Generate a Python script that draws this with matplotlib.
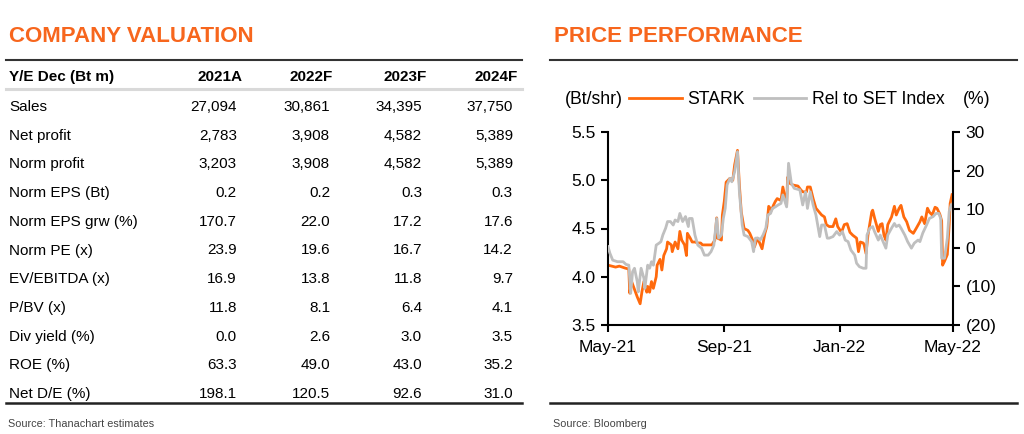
import matplotlib
matplotlib.use("Agg")
import matplotlib.pyplot as plt
import matplotlib.dates as mdates
from matplotlib.lines import Line2D
import pandas as pd

plt.rcParams['font.family'] = ['Liberation Sans', 'DejaVu Sans']

# ---------------- data ----------------
table_title = "COMPANY VALUATION"
chart_title = "PRICE PERFORMANCE"
col_header = "Y/E Dec (Bt m)"
years = ["2021A", "2022F", "2023F", "2024F"]
row_labels = ["Sales", "Net profit", "Norm profit", "Norm EPS (Bt)", "Norm EPS grw (%)",
              "Norm PE (x)", "EV/EBITDA (x)", "P/BV (x)", "Div yield (%)", "ROE (%)", "Net D/E (%)"]
col_2021A = ["27,094", "2,783", "3,203", "0.2", "170.7", "23.9", "16.9", "11.8", "0.0", "63.3", "198.1"]
col_2022F = ["30,861", "3,908", "3,908", "0.2", "22.0", "19.6", "13.8", "8.1", "2.6", "49.0", "120.5"]
col_2023F = ["34,395", "4,582", "4,582", "0.3", "17.2", "16.7", "11.8", "6.4", "3.0", "43.0", "92.6"]
col_2024F = ["37,750", "5,389", "5,389", "0.3", "17.6", "14.2", "9.7", "4.1", "3.5", "35.2", "31.0"]
table_source = "Source: Thanachart estimates"
chart_source = "Source: Bloomberg"

stark_dates = [
    "2021-05-01", "2021-05-05", "2021-05-09", "2021-05-13", "2021-05-19", "2021-05-23", "2021-05-24",
    "2021-05-26", "2021-05-29", "2021-06-01", "2021-06-04", "2021-06-06", "2021-06-08", "2021-06-11",
    "2021-06-12", "2021-06-14", "2021-06-16", "2021-06-18", "2021-06-21", "2021-06-22", "2021-06-25",
    "2021-06-27", "2021-06-29", "2021-07-02", "2021-07-03", "2021-07-07", "2021-07-08", "2021-07-11",
    "2021-07-14", "2021-07-16", "2021-07-18", "2021-07-21", "2021-07-23", "2021-07-24", "2021-07-27",
    "2021-07-29", "2021-08-01", "2021-08-04", "2021-08-07", "2021-08-09", "2021-08-13", "2021-08-19",
    "2021-08-22", "2021-08-24", "2021-08-25", "2021-08-29", "2021-08-30", "2021-09-01", "2021-09-03",
    "2021-09-07", "2021-09-10", "2021-09-12", "2021-09-15", "2021-09-17", "2021-09-19", "2021-09-22",
    "2021-09-26", "2021-09-28", "2021-10-01", "2021-10-03", "2021-10-06", "2021-10-08", "2021-10-11",
    "2021-10-14", "2021-10-16", "2021-10-18", "2021-10-21", "2021-10-23", "2021-10-25", "2021-10-27",
    "2021-10-31", "2021-11-02", "2021-11-06", "2021-11-07", "2021-11-09", "2021-11-13", "2021-11-18",
    "2021-11-21", "2021-11-23", "2021-11-27", "2021-11-28", "2021-12-01", "2021-12-04", "2021-12-07",
    "2021-12-13", "2021-12-16", "2021-12-18", "2021-12-21", "2021-12-25", "2021-12-28", "2021-12-30",
    "2022-01-03", "2022-01-06", "2022-01-09", "2022-01-12", "2022-01-15", "2022-01-19", "2022-01-21",
    "2022-01-23", "2022-01-26", "2022-01-27", "2022-01-29", "2022-01-31", "2022-02-04", "2022-02-05",
    "2022-02-07", "2022-02-11", "2022-02-13", "2022-02-15", "2022-02-17", "2022-02-19", "2022-02-21",
    "2022-02-25", "2022-02-28", "2022-03-02", "2022-03-05", "2022-03-07", "2022-03-10", "2022-03-13",
    "2022-03-16", "2022-03-20", "2022-03-23", "2022-03-27", "2022-03-29", "2022-04-01", "2022-04-04",
    "2022-04-06", "2022-04-09", "2022-04-12", "2022-04-14", "2022-04-17", "2022-04-19", "2022-04-20",
    "2022-04-22", "2022-04-25", "2022-04-27", "2022-04-28", "2022-04-30",
]
stark_price = [
    4.12, 4.11, 4.10, 4.11, 4.09, 4.08, 3.83,
    3.95, 3.87, 3.79, 3.72, 3.85, 3.95, 3.84,
    3.90, 3.84, 3.95, 3.88, 4.00, 4.12, 4.18,
    4.07, 4.22, 4.29, 4.36, 4.33, 4.26, 4.36,
    4.29, 4.47, 4.38, 4.33, 4.22, 4.45, 4.40,
    4.36, 4.36, 4.35, 4.35, 4.33, 4.33, 4.33,
    4.38, 4.61, 4.40, 4.38, 4.64, 4.78, 4.98,
    5.02, 5.00, 5.16, 5.31, 4.95, 4.67, 4.50,
    4.48, 4.45, 4.38, 4.31, 4.40, 4.36, 4.29,
    4.45, 4.52, 4.73, 4.69, 4.74, 4.78, 4.81,
    4.79, 4.93, 4.74, 5.03, 4.97, 4.95, 4.94,
    4.90, 4.88, 4.88, 4.93, 4.93, 4.81, 4.71,
    4.64, 4.62, 4.54, 4.52, 4.52, 4.60, 4.52,
    4.46, 4.54, 4.55, 4.46, 4.43, 4.40, 4.26,
    4.36, 4.35, 4.33, 4.24, 4.43, 4.67, 4.69,
    4.61, 4.47, 4.54, 4.55, 4.43, 4.38, 4.54,
    4.62, 4.73, 4.64, 4.71, 4.74, 4.62, 4.57,
    4.48, 4.45, 4.50, 4.57, 4.62, 4.55, 4.71,
    4.67, 4.64, 4.72, 4.71, 4.65, 4.58, 4.12,
    4.16, 4.23, 4.54, 4.76, 4.85,
]

rel_dates = [
    "2021-05-01", "2021-05-03", "2021-05-06", "2021-05-11", "2021-05-17", "2021-05-20", "2021-05-23",
    "2021-05-25", "2021-05-27", "2021-05-29", "2021-06-01", "2021-06-02", "2021-06-05", "2021-06-08",
    "2021-06-09", "2021-06-12", "2021-06-14", "2021-06-16", "2021-06-18", "2021-06-21", "2021-06-24",
    "2021-06-26", "2021-06-28", "2021-07-01", "2021-07-03", "2021-07-06", "2021-07-09", "2021-07-11",
    "2021-07-14", "2021-07-16", "2021-07-19", "2021-07-22", "2021-07-25", "2021-07-26", "2021-07-29",
    "2021-08-01", "2021-08-04", "2021-08-08", "2021-08-11", "2021-08-15", "2021-08-18", "2021-08-21",
    "2021-08-24", "2021-08-26", "2021-08-29", "2021-08-31", "2021-09-02", "2021-09-04", "2021-09-07",
    "2021-09-09", "2021-09-12", "2021-09-15", "2021-09-17", "2021-09-20", "2021-09-22", "2021-09-26",
    "2021-09-30", "2021-10-02", "2021-10-04", "2021-10-07", "2021-10-09", "2021-10-12", "2021-10-15",
    "2021-10-17", "2021-10-20", "2021-10-22", "2021-10-25", "2021-10-28", "2021-10-31", "2021-11-02",
    "2021-11-06", "2021-11-08", "2021-11-11", "2021-11-14", "2021-11-20", "2021-11-23", "2021-11-26",
    "2021-11-28", "2021-12-01", "2021-12-04", "2021-12-07", "2021-12-11", "2021-12-13", "2021-12-16",
    "2021-12-19", "2021-12-21", "2021-12-25", "2021-12-29", "2022-01-01", "2022-01-04", "2022-01-07",
    "2022-01-10", "2022-01-13", "2022-01-17", "2022-01-19", "2022-01-22", "2022-01-26", "2022-01-29",
    "2022-01-30", "2022-02-02", "2022-02-05", "2022-02-07", "2022-02-11", "2022-02-13", "2022-02-16",
    "2022-02-19", "2022-02-21", "2022-02-25", "2022-02-28", "2022-03-02", "2022-03-05", "2022-03-07",
    "2022-03-11", "2022-03-14", "2022-03-18", "2022-03-21", "2022-03-25", "2022-03-27", "2022-03-30",
    "2022-04-03", "2022-04-06", "2022-04-10", "2022-04-13", "2022-04-16", "2022-04-18", "2022-04-19",
    "2022-04-22", "2022-04-25", "2022-04-27", "2022-04-29",
]
rel_to_set = [
    0.3, -1.4, -3.2, -3.6, -3.6, -4.3, -4.5,
    -11.8, -6.2, -5.3, -8.8, -11.4, -5.3, -7.9,
    -10.5, -4.5, -5.3, -3.6, -4.5, 0.7, 1.2,
    1.6, 3.3, 5.1, 6.8, 6.8, 5.9, 7.2,
    6.8, 8.9, 6.8, 8.1, 5.5, 7.6, 7.6,
    3.3, 0.7, -0.1, -1.9, -1.9, -1.0, 0.7,
    7.6, 2.5, 3.3, 7.6, 10.2, 16.3, 18.0,
    17.1, 19.7, 24.9, 14.5, 5.9, 3.3, 2.9,
    1.6, -1.0, 2.5, 2.5, 2.0, 3.3, 5.1,
    8.5, 8.9, 10.2, 10.6, 11.1, 11.5, 13.7,
    10.6, 21.9, 16.7, 15.4, 15.0, 11.1, 14.5,
    10.2, 14.5, 11.1, 8.5, 2.9, 5.9, 5.9,
    2.5, 2.5, 2.9, 4.2, 3.3, 4.2, 2.0,
    1.6, -0.6, -1.9, -4.0, -4.9, -5.3, -5.3,
    3.3, 5.1, 5.5, 4.2, 2.0, 3.3, 1.6,
    -0.1, 3.3, 5.1, 6.3, 5.5, 5.9, 5.1,
    3.3, 1.6, -0.1, 1.2, 2.0, 1.6, 3.8,
    5.9, 7.6, 8.1, 8.9, 8.9, 7.6, -2.7,
    -2.7, 2.5, 9.4, 11.1,
]

x_ticks = ["2021-05-01", "2021-09-01", "2022-01-01", "2022-05-01"]
left_ticks = [3.5, 4.0, 4.5, 5.0, 5.5]
right_ticks = [-20, -10, 0, 10, 20, 30]
right_tick_labels = ["(20)", "(10)", "0", "10", "20", "30"]

# ---------------- figure ----------------
W, H = 1024, 434
fig = plt.figure(figsize=(W / 100, H / 100), dpi=100)
fig.patch.set_facecolor("white")

ORANGE_T = "#F7661D"
ORANGE_L = "#FF6A0D"
GREY_L = "#BFBFBF"


def ft(x, y, s, **kw):
    kw.setdefault("va", "center")
    return fig.text(x / W, 1 - y / H, s, **kw)


def hline(x0, x1, y, color, lw):
    fig.add_artist(Line2D([x0 / W, x1 / W], [1 - y / H, 1 - y / H],
                          transform=fig.transFigure, color=color, lw=lw))


# ----- left: table -----
ft(9, 36, table_title, color=ORANGE_T, fontsize=16, fontweight="bold")
hline(6, 522, 60, "#333333", 1.5)
ft(9, 77, col_header, fontsize=11, fontweight="bold", color="black")
hdr_x = [242, 333, 427, 518]
for xx, yr in zip(hdr_x, years):
    ft(xx, 77, yr, fontsize=11, fontweight="bold", ha="right", color="black")
hline(6, 522, 88.5, "#D9D9D9", 2.2)

row_y0, row_dy = 107, 28.7
val_x = [237, 330, 422, 513]
cols = [col_2021A, col_2022F, col_2023F, col_2024F]
for i, lab in enumerate(row_labels):
    y = row_y0 + i * row_dy
    ft(9, y, lab, fontsize=11, color="black")
    for xx, col in zip(val_x, cols):
        ft(xx, y, col[i], fontsize=11, ha="right", color="black")
hline(6, 522, 403, "#222222", 1.8)
ft(8, 424, table_source, fontsize=7.8, color="#444444")

# ----- right: chart -----
ft(554, 36, chart_title, color=ORANGE_T, fontsize=16, fontweight="bold")
hline(550, 1017, 60, "#333333", 1.5)
hline(550, 1017, 403, "#222222", 1.8)
ft(553, 424, chart_source, fontsize=7.8, color="#444444")

left, right = 608 / W, 953 / W
bottom, top = 1 - 325 / H, 1 - 132 / H
ax = fig.add_axes([left, bottom, right - left, top - bottom])
ax2 = ax.twinx()

sd = pd.to_datetime(stark_dates)
rd = pd.to_datetime(rel_dates)
l1, = ax.plot(sd, stark_price, color=ORANGE_L, lw=2.0, label="STARK")
l2, = ax2.plot(rd, rel_to_set, color=GREY_L, lw=2.0, label="Rel to SET Index")

ax.set_xlim(pd.Timestamp(x_ticks[0]), pd.Timestamp(x_ticks[-1]))
ax.set_ylim(left_ticks[0], left_ticks[-1])
ax2.set_ylim(right_ticks[0], right_ticks[-1])
ax.set_xticks(pd.to_datetime(x_ticks))
ax.xaxis.set_major_formatter(mdates.DateFormatter("%b-%y"))
ax.set_yticks(left_ticks)
ax.set_yticklabels([f"{v:.1f}" for v in left_ticks])
ax2.set_yticks(right_ticks)
ax2.set_yticklabels(right_tick_labels)

for a in (ax, ax2):
    a.patch.set_alpha(0)
    a.spines["top"].set_visible(False)
    for s in a.spines.values():
        s.set_linewidth(1.5)
        s.set_color("black")
    a.tick_params(direction="out", length=5, width=1.5, labelsize=12.5, colors="black", pad=4)
ax.spines["right"].set_visible(False)
ax2.spines["left"].set_visible(False)
ax2.spines["bottom"].set_visible(False)
ax.tick_params(axis="x", pad=6)

# legend row
ft(565, 100, "(Bt/shr)", fontsize=12.7, color="black")
ft(963, 100, "(%)", fontsize=12.7, color="black")
leg = fig.legend(handles=[l1, l2], loc="center left",
                 bbox_to_anchor=(629 / W, 1 - 100 / H), bbox_transform=fig.transFigure,
                 ncol=2, frameon=False, fontsize=12.7, handlelength=3.0,
                 handletextpad=0.3, columnspacing=0.5, borderpad=0, borderaxespad=0)

fig.savefig("out.png", dpi=100, facecolor="white")
